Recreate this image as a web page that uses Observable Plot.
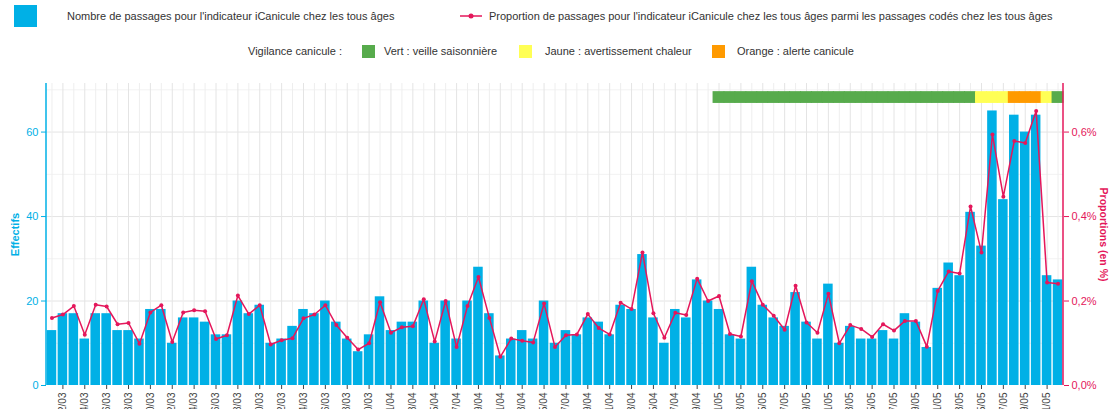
<!DOCTYPE html>
<html><head><meta charset="utf-8">
<script src="https://cdn.jsdelivr.net/npm/d3@7"></script>
<script src="https://cdn.jsdelivr.net/npm/@observablehq/plot@0.6"></script>
<style>
html,body{margin:0;padding:0;background:#fff;overflow:hidden;font-family:"Liberation Sans",Arial,Helvetica,sans-serif;}
#legend{position:relative;height:70px;width:1111px;font-size:11px;color:#333;}
#legend .t{position:absolute;white-space:nowrap;line-height:12px;height:12px;}
#legend .sq{position:absolute;}
#chart svg{display:block;}
</style></head><body>
<div id="legend"></div>
<div id="chart"></div>
<script>
// ---- data ----
const firstDay = new Date(Date.UTC(2025, 2, 1));
const lastDay = new Date(Date.UTC(2025, 5, 2));
const dates = d3.utcDay.range(firstDay, lastDay).map(d3.utcFormat("%d/%m"));

const counts = [13,17,17,11,17,17,13,13,11,18,
  18,10,16,16,15,12,12,20,17,19,
  10,11,14,18,17,20,15,11,8,12,
  21,13,15,15,20,10,20,11,20,28,
  17,7,11,13,11,20,10,13,12,16,
  15,12,19,18,31,16,10,18,16,25,
  20,18,12,11,28,19,16,14,22,15,
  11,24,10,14,11,11,13,11,17,15,
  9,23,29,26,41,33,65,44,64,60,
  64,26,25];

const proportions = [0.160,0.168,0.188,0.120,0.191,0.187,0.145,0.148,0.099,0.173,
  0.190,0.103,0.173,0.178,0.176,0.110,0.119,0.213,0.169,0.190,
  0.097,0.107,0.112,0.159,0.168,0.190,0.143,0.113,0.085,0.100,
  0.197,0.125,0.138,0.140,0.204,0.104,0.200,0.091,0.188,0.257,
  0.160,0.068,0.111,0.106,0.102,0.194,0.091,0.119,0.121,0.169,
  0.136,0.121,0.196,0.181,0.315,0.171,0.113,0.172,0.167,0.253,
  0.200,0.212,0.122,0.116,0.247,0.191,0.165,0.132,0.236,0.149,
  0.125,0.217,0.100,0.143,0.134,0.115,0.145,0.130,0.153,0.153,
  0.092,0.224,0.270,0.265,0.424,0.315,0.594,0.447,0.579,0.574,
  0.650,0.244,0.241];

const vigStart = ["01/05","25/05","28/05","31/05","01/06"];
const vigEnd   = ["24/05","27/05","30/05","31/05","01/06"];
const vigLevel = ["Vert","Jaune","Orange","Jaune","Vert"];

const vigLevels = ["Vert","Jaune","Orange"];
const vigLabels = ["Vert : veille saisonnière","Jaune : avertissement chaleur","Orange : alerte canicule"];
const vigColors = ["#57ab4c","#ffff55","#ff9a00"];

const leftTicks = [0,20,40,60];
const rightTicks = [0,0.2,0.4,0.6];
const labelDates = dates.filter((d,i) => i % 2 === 1);

const seriesBarLabel = "Nombre de passages pour l'indicateur iCanicule chez les tous âges";
const seriesLineLabel = "Proportion de passages pour l'indicateur iCanicule chez les tous âges parmi les passages codés chez les tous âges";

// ---- styles ----
const blue = "#00b0e6";
const pink = "#e4175b";

// daily vigilance
const vigDaily = dates.map(() => null);
vigStart.forEach((s,k) => {
  const a = dates.indexOf(s), b = dates.indexOf(vigEnd[k]);
  for (let i = a; i <= b; i++) vigDaily[i] = vigLevel[k];
});
const rows = dates.map((d,i) => ({date:d, n:counts[i], p:proportions[i], vig:vigDaily[i]}));
const yMax = d3.max(counts) * 1.1;

// ---- legend ----
const L = document.getElementById("legend");
function add(html){ L.insertAdjacentHTML("beforeend", html); }
add(`<div class="sq" style="left:14px;top:5px;width:23px;height:22px;background:${blue}"></div>`);
add(`<div class="t" style="left:67px;top:10px">${seriesBarLabel}</div>`);
add(`<svg style="position:absolute;left:459px;top:10px" width="24" height="12"><line x1="1" x2="23" y1="6" y2="6" stroke="${pink}" stroke-width="1.5"/><circle cx="12" cy="6" r="2.5" fill="${pink}"/></svg>`);
add(`<div class="t" style="left:489px;top:10px">${seriesLineLabel}</div>`);
add(`<div class="t" style="left:248px;top:45px">Vigilance canicule :</div>`);
const sqX = [362, 519, 712], txX = [384, 545, 737];
vigLevels.forEach((v,k) => {
  add(`<div class="sq" style="left:${sqX[k]}px;top:45px;width:13px;height:13px;background:${vigColors[k]}"></div>`);
  add(`<div class="t" style="left:${txX[k]}px;top:45px">${vigLabels[k]}</div>`);
});

// ---- chart ----
const axisLines = (index, scales, values, dim) => {
  const g = d3.create("svg:g");
  const top = dim.marginTop, bot = dim.height - dim.marginBottom;
  g.append("line").attr("x1", dim.marginLeft).attr("x2", dim.marginLeft).attr("y1", top).attr("y2", bot)
    .attr("stroke", blue).attr("stroke-width", 1.5);
  g.append("line").attr("x1", dim.width - dim.marginRight).attr("x2", dim.width - dim.marginRight).attr("y1", top).attr("y2", bot)
    .attr("stroke", pink).attr("stroke-width", 1.5);
  return g.node();
};

const chart = Plot.plot({
  width: 1111, height: 355,
  marginLeft: 46, marginRight: 48, marginTop: 13, marginBottom: 40,
  style: {fontFamily: '"Liberation Sans", Arial, sans-serif', fontSize: "11px", background: "white", overflow: "visible"},
  x: {type: "band", domain: dates, padding: 0, axis: null},
  y: {domain: [0, yMax], axis: null},
  color: {domain: vigLevels, range: vigColors},
  marks: [
    Plot.ruleY(d3.range(10, yMax, 20), {stroke: "#f2f2f2"}),
    Plot.ruleY(leftTicks.slice(1), {stroke: "#e4e4e4"}),
    Plot.ruleX(dates.filter((d,i) => i % 2 === 0), {stroke: "#eeeeee"}),
    Plot.ruleX(labelDates, {stroke: "#e4e4e4"}),
    Plot.barY(rows, {x: "date", y: "n", fill: blue, insetLeft: 0.7, insetRight: 0.7}),
    Plot.barY(rows.filter(r => r.vig), {x: "date", y1: yMax * 0.934, y2: yMax * 0.973, fill: "vig", insetLeft: -0.5, insetRight: -0.5}),
    Plot.line(rows, {x: "date", y: d => d.p * 100, stroke: pink, strokeWidth: 1.5}),
    Plot.dot(rows, {x: "date", y: d => d.p * 100, r: 2, fill: pink}),
    Plot.axisY(leftTicks, {anchor: "left", tickSize: 5, tickPadding: 3, color: blue, label: null, fontSize: 11}),
    Plot.axisY(rightTicks.map(t => t * 100), {anchor: "right", tickSize: 5, tickPadding: 3, color: pink, label: null, fontSize: 11,
      tickFormat: d => (d / 100).toFixed(1).replace(".", ",") + "%"}),
    Plot.axisX(labelDates, {anchor: "bottom", tickSize: 4, tickPadding: 3, tickRotate: -90, color: "#444", label: null, fontSize: 10}),
    Plot.text(["Effectifs"], {frameAnchor: "left", rotate: -90, dx: -31, textAnchor: "middle", fill: blue, fontWeight: "bold", fontSize: 11}),
    Plot.text(["Proportions (en %)"], {frameAnchor: "right", rotate: 90, dx: 40, textAnchor: "middle", fill: pink, fontWeight: "bold", fontSize: 10.5}),
    axisLines
  ]
});
document.getElementById("chart").appendChild(chart);
</script>
</body></html>
